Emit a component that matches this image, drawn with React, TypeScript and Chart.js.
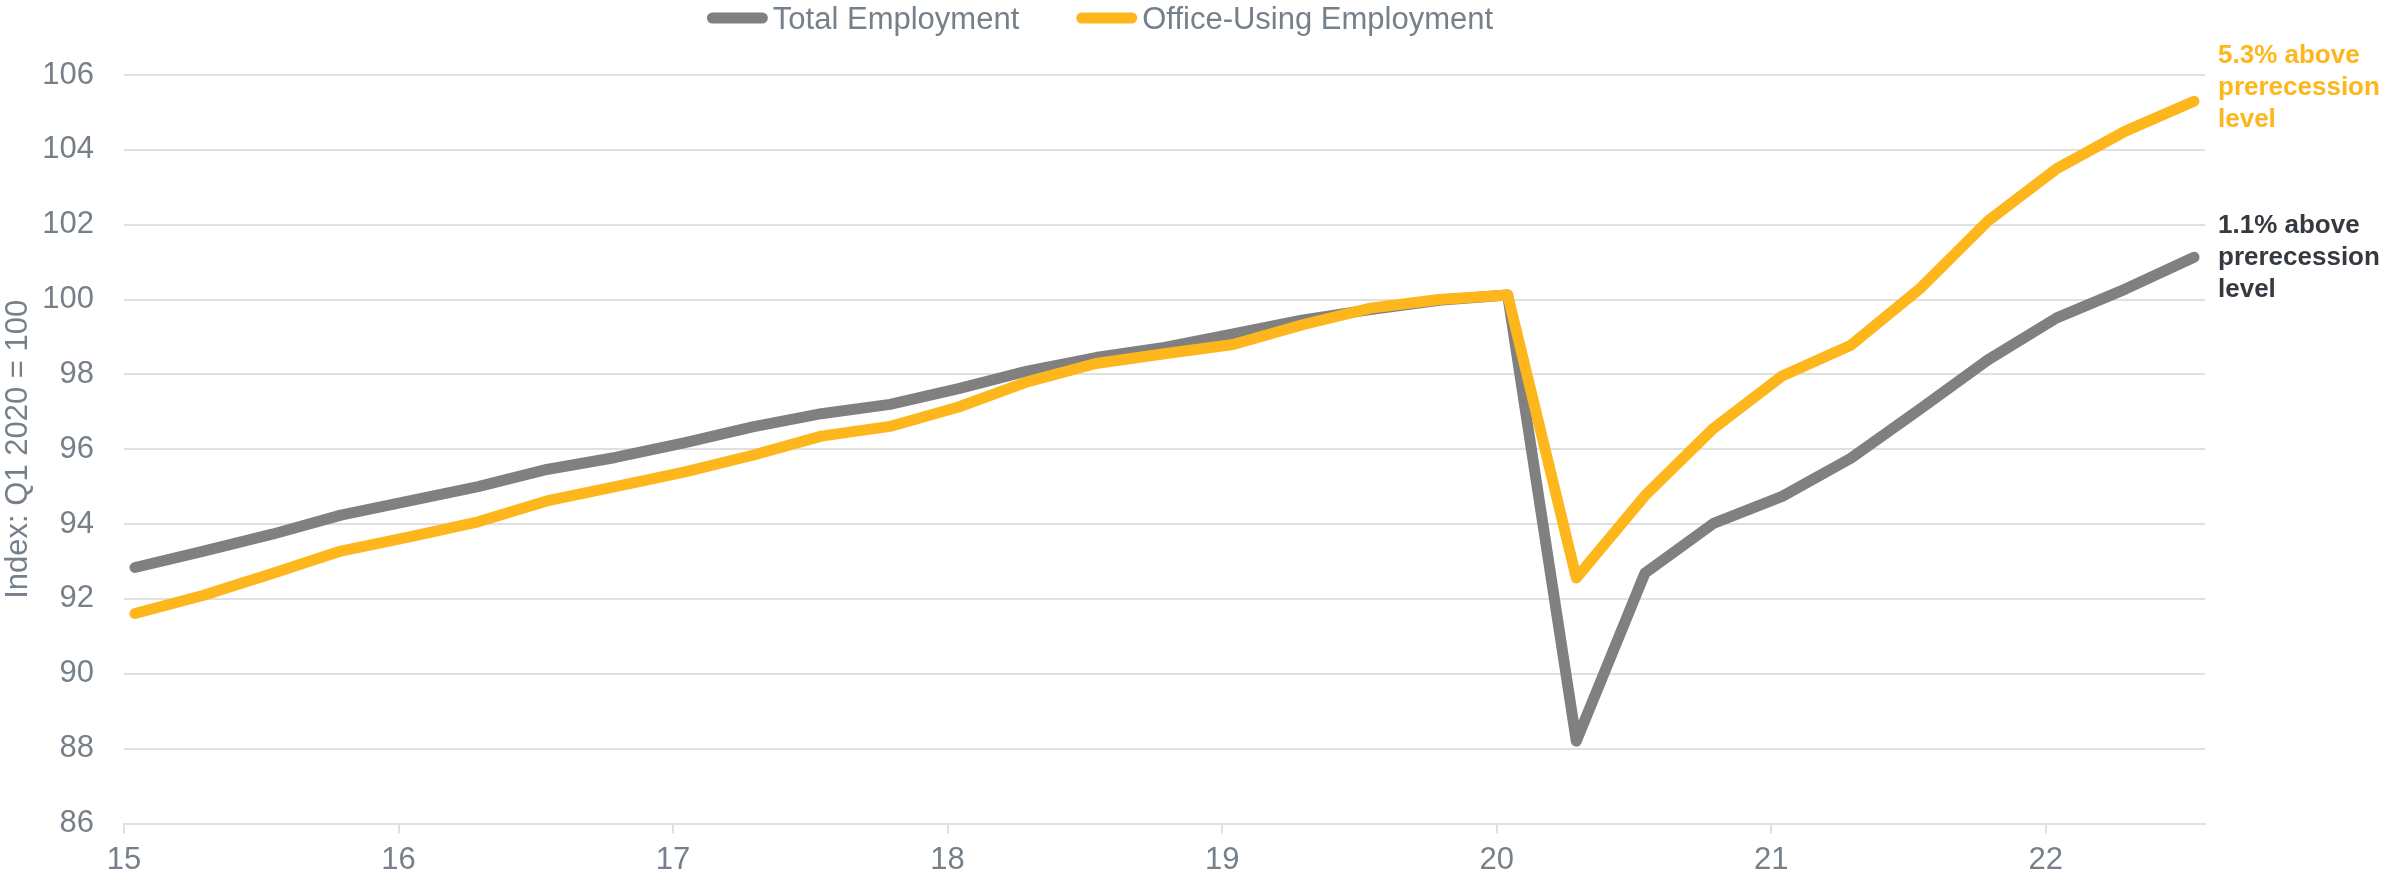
import React, { useEffect, useRef } from "react";
import { Chart, registerables } from "chart.js";

Chart.register(...registerables);

// ---------- data ----------
const quarters = [
  "2015 Q1", "2015 Q2", "2015 Q3", "2015 Q4",
  "2016 Q1", "2016 Q2", "2016 Q3", "2016 Q4",
  "2017 Q1", "2017 Q2", "2017 Q3", "2017 Q4",
  "2018 Q1", "2018 Q2", "2018 Q3", "2018 Q4",
  "2019 Q1", "2019 Q2", "2019 Q3", "2019 Q4",
  "2020 Q1", "2020 Q2", "2020 Q3", "2020 Q4",
  "2021 Q1", "2021 Q2", "2021 Q3", "2021 Q4",
  "2022 Q1", "2022 Q2", "2022 Q3",
];

const totalEmployment = [
  92.84, 93.28, 93.73, 94.24,
  94.62, 95.0, 95.46, 95.78,
  96.17, 96.6, 96.95, 97.2,
  97.62, 98.09, 98.45, 98.72,
  99.08, 99.45, 99.73, 99.98,
  100.12, 88.2, 92.69, 94.02,
  94.74, 95.76, 97.06, 98.39,
  99.51, 100.28, 101.13,
];

const officeEmployment = [
  91.61, 92.1, 92.68, 93.28,
  93.66, 94.06, 94.62, 95.0,
  95.39, 95.84, 96.35, 96.61,
  97.13, 97.8, 98.29, 98.55,
  98.8, 99.32, 99.77, 100.0,
  100.12, 92.56, 94.76, 96.56,
  97.96, 98.78, 100.28, 102.1,
  103.5, 104.5, 105.3,
];

const seriesLabels = ["Total Employment", "Office-Using Employment"];
const xTickValues = [15, 16, 17, 18, 19, 20, 21, 22];
const yTickValues = [86, 88, 90, 92, 94, 96, 98, 100, 102, 104, 106];
const yAxisTitle = "Index: Q1 2020 = 100";
const annotationOffice = ["5.3% above", "prerecession", "level"];
const annotationTotal = ["1.1% above", "prerecession", "level"];

// ---------- styles ----------
const GRAY = "#808080";
const ORANGE = "#FDB71C";
const TEXT = "#76808A";
const DARK = "#343A40";
const GRID = "#E0E0E0";
const FONT = "'Liberation Sans', Arial, Helvetica, sans-serif";

function quarterToX(label: string): number {
  const [yr, q] = label.split(" Q");
  return Number(yr) - 2000 + (Number(q) - 1) / 4 + 0.04;
}

const legendPlugin = {
  id: "customLegend",
  afterDraw(chart: any) {
    const ctx = chart.ctx;
    ctx.save();
    ctx.font = `31px ${FONT}`;
    const markerW = 61;
    const gap = 5;
    const itemGap = 57;
    const items = chart.data.datasets.map((d: any) => ({
      label: d.label,
      color: d.borderColor,
      w: markerW + gap + ctx.measureText(d.label).width,
    }));
    const total = items.reduce((s: number, it: any) => s + it.w, 0) + itemGap * (items.length - 1);
    let x = 1100 - total / 2;
    const yc = 18;
    for (const it of items) {
      ctx.strokeStyle = it.color;
      ctx.lineWidth = 11;
      ctx.lineCap = "round";
      ctx.beginPath();
      ctx.moveTo(x + 5.5, yc);
      ctx.lineTo(x + markerW - 5.5, yc);
      ctx.stroke();
      ctx.fillStyle = TEXT;
      ctx.textAlign = "left";
      ctx.textBaseline = "alphabetic";
      ctx.fillText(it.label, x + markerW + gap, 29);
      x += it.w + itemGap;
    }
    ctx.restore();
  },
};

const annotationPlugin = {
  id: "endAnnotations",
  afterDraw(chart: any) {
    const ctx = chart.ctx;
    const ys = chart.scales.y;
    const x = chart.chartArea.right + 13;
    ctx.save();
    ctx.font = `bold 26px ${FONT}`;
    ctx.textAlign = "left";
    ctx.textBaseline = "alphabetic";
    const draw = (lines: string[], color: string, anchorValue: number) => {
      const y0 = ys.getPixelForValue(anchorValue);
      ctx.fillStyle = color;
      lines.forEach((l, i) => ctx.fillText(l, x, y0 + i * 32));
    };
    draw(annotationOffice, ORANGE, 106.31);
    draw(annotationTotal, DARK, 101.79);
    ctx.restore();
  },
};

export default function App() {
  const ref = useRef<HTMLCanvasElement>(null);

  useEffect(() => {
    if (!ref.current) return;
    const mk = (vals: number[]) => quarters.map((q, i) => ({ x: quarterToX(q), y: vals[i] }));
    const chart = new Chart(ref.current, {
      type: "line",
      data: {
        datasets: [
          {
            label: seriesLabels[0],
            data: mk(totalEmployment),
            borderColor: GRAY,
            backgroundColor: GRAY,
            borderWidth: 11,
            borderCapStyle: "round",
            borderJoinStyle: "round",
            pointRadius: 0,
            tension: 0,
            fill: false,
            order: 2,
          },
          {
            label: seriesLabels[1],
            data: mk(officeEmployment),
            borderColor: ORANGE,
            backgroundColor: ORANGE,
            borderWidth: 11,
            borderCapStyle: "round",
            borderJoinStyle: "round",
            pointRadius: 0,
            tension: 0,
            fill: false,
            order: 1,
          },
        ],
      },
      options: {
        animation: false,
        responsive: false,
        devicePixelRatio: 1,
        layout: { padding: { top: 75, right: 177, left: 0, bottom: 0 } },
        plugins: {
          legend: { display: false },
          tooltip: { enabled: false },
        },
        scales: {
          x: {
            type: "linear",
            min: 15,
            max: 22.58,
            afterBuildTicks: (s: any) => {
              s.ticks = xTickValues.map((v) => ({ value: v }));
            },
            ticks: {
              includeBounds: false,
              autoSkip: false,
              maxRotation: 0,
              color: TEXT,
              padding: 8,
              font: { family: FONT, size: 31 },
              callback: (v: any) => String(v),
            },
            grid: {
              drawOnChartArea: false,
              drawTicks: true,
              tickLength: 10,
              color: GRID,
              lineWidth: 2,
            },
            border: { display: true, color: GRID, width: 2 },
            afterFit: (s: any) => {
              s.height = 52.5;
            },
          },
          y: {
            min: 86,
            max: 106,
            afterBuildTicks: (s: any) => {
              s.ticks = yTickValues.map((v) => ({ value: v }));
            },
            ticks: {
              padding: 30,
              color: TEXT,
              font: { family: FONT, size: 31 },
            },
            grid: { color: GRID, lineWidth: 2, drawTicks: false },
            border: { display: false },
            title: {
              display: true,
              text: yAxisTitle,
              color: TEXT,
              font: { family: FONT, size: 31 },
              padding: 0,
            },
            afterFit: (s: any) => {
              s.width = 124;
            },
          },
        },
      },
      plugins: [legendPlugin, annotationPlugin],
    });
    return () => chart.destroy();
  }, []);

  return (
    <div style={{ position: "fixed", left: 0, top: 0, width: 2382, height: 876, background: "#fff" }}>
      <canvas ref={ref} width={2382} height={876} style={{ display: "block" }} />
    </div>
  );
}
